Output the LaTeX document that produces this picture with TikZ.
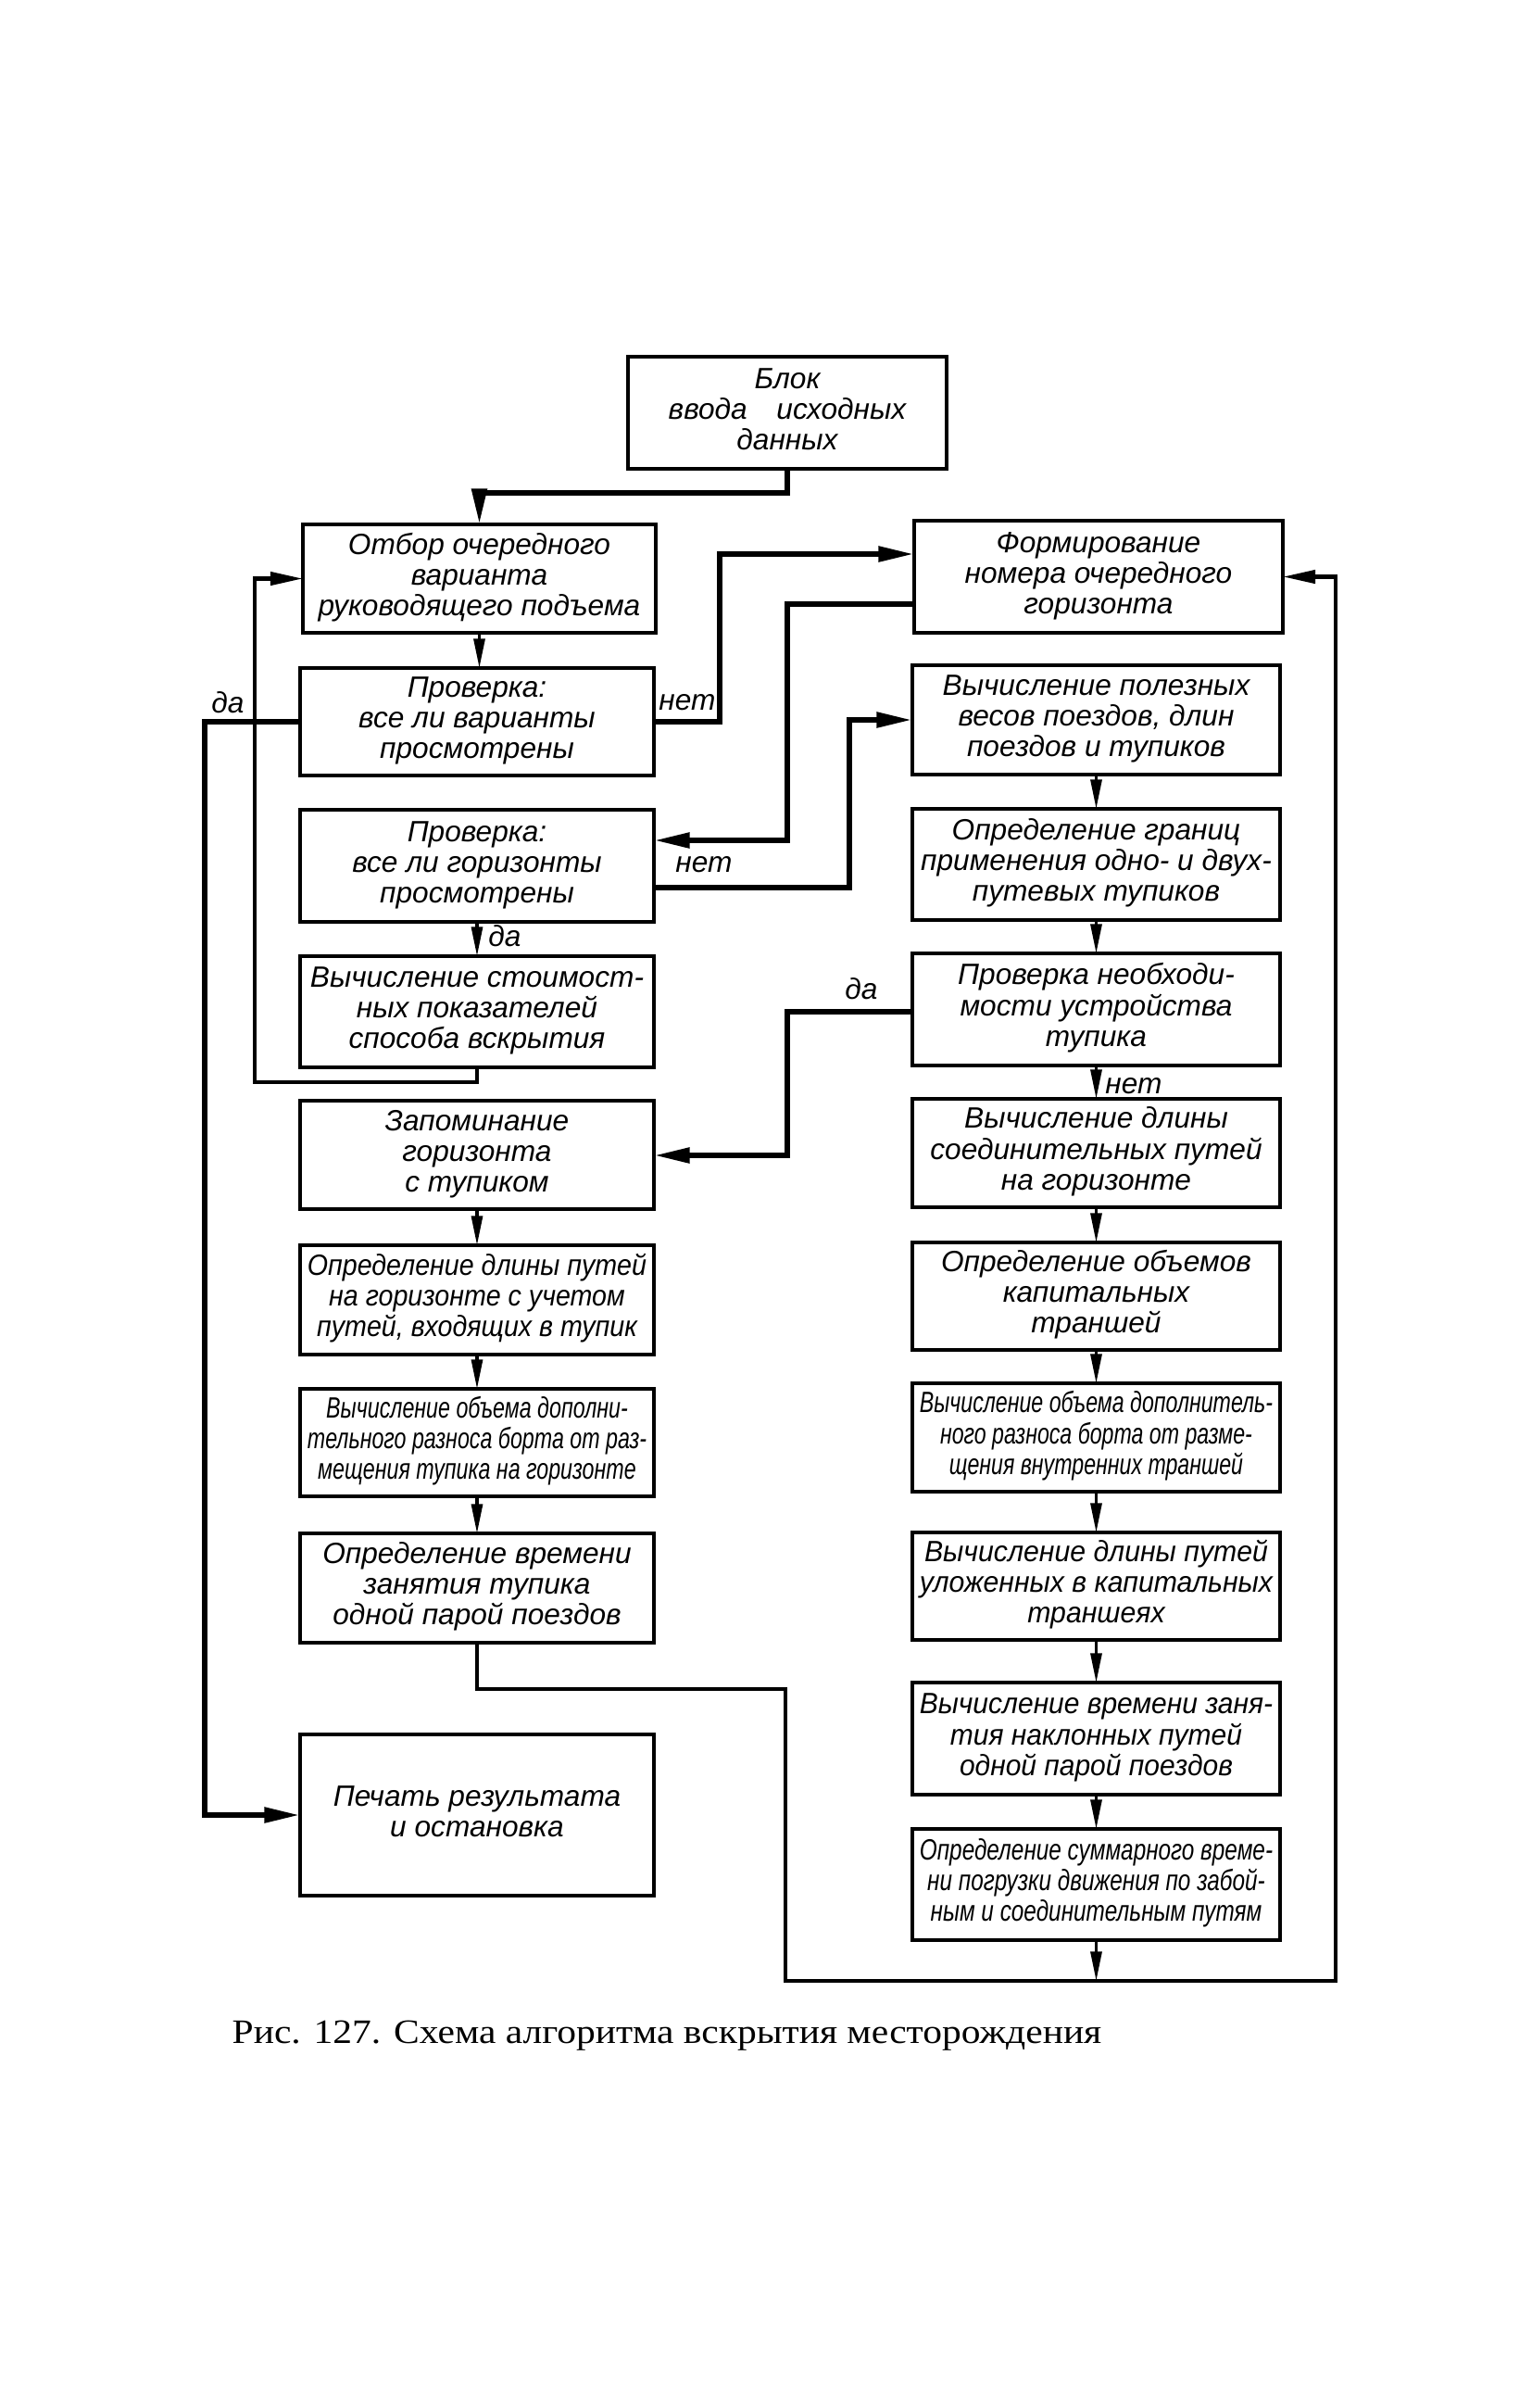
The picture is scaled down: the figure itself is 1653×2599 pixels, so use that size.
\documentclass[tikz,border=0pt]{standalone}
\usepackage{fontspec}
\usepackage{graphicx}
\setmainfont{Liberation Sans}
\newfontfamily\capfont{Liberation Serif}
\usetikzlibrary{arrows.meta}
\newsavebox\fitbox
\newdimen\fitw
\newcommand\boxfont{\fontsize{9}{9.4}\selectfont\itshape}
\newcommand\fittxt[2]{\fitw=\dimexpr 0.284528pt*(#1)\relax\sbox\fitbox{\begin{tabular}{@{}c@{}}#2\end{tabular}}\ifdim\wd\fitbox>\fitw\resizebox{\fitw}{\height}{\usebox\fitbox}\else\usebox\fitbox\fi}
\newcommand\bx[6]{\node[box, minimum width={(#4-#2)*0.01cm}, minimum height={(#5-#3)*0.01cm}] (#1) at ({(#2+#4)/2},{(#3+#5)/2}) {\fittxt{#4-#2-16}{#6}};}
\begin{document}
\begin{tikzpicture}[x=0.01cm,y=-0.01cm,
  box/.style={draw,line width=1pt,inner sep=0pt,outer sep=0pt,font=\boxfont},
  varr/.style={line width=0.9pt,-{Triangle[length=9pt,width=3.4pt]}},
  marr/.style={line width=1.2pt,-{Triangle[length=10pt,width=4pt]}},
  thk/.style={line width=1.7pt,-{Triangle[length=11pt,width=4.5pt]}},
  lbl/.style={font=\boxfont,inner sep=0pt}]
\fill[white] (0,0) rectangle (1653,2599);
\useasboundingbox (0,0) rectangle (1653,2599);
% boxes
\bx{T}{678}{385}{1022}{506}{Блок\\ввода\quad исходных\\данных}
\bx{L1}{327}{566}{708}{683}{Отбор очередного\\варианта\\руководящего подъема}
\bx{L2}{324}{721}{706}{837}{Проверка:\\все ли варианты\\просмотрены}
\bx{L3}{324}{874}{706}{995}{Проверка:\\все ли горизонты\\просмотрены}
\bx{L4}{324}{1032}{706}{1152}{Вычисление стоимост-\\ных показателей\\способа вскрытия}
\bx{L5}{324}{1188}{706}{1305}{Запоминание\\горизонта\\с тупиком}
\bx{L6}{324}{1344}{706}{1462}{Определение длины путей\\на горизонте с учетом\\путей, входящих в тупик}
\bx{L7}{324}{1499}{706}{1615}{Вычисление объема дополни-\\тельного разноса борта от раз-\\мещения тупика на горизонте}
\bx{L8}{324}{1655}{706}{1773}{Определение времени\\занятия тупика\\одной парой поездов}
\bx{L9}{324}{1872}{706}{2046}{Печать результата\\и остановка}
\bx{R1}{987}{562}{1385}{683}{Формирование\\номера очередного\\горизонта}
\bx{R2}{985}{718}{1382}{836}{Вычисление полезных\\весов поездов, длин\\поездов и тупиков}
\bx{R3}{985}{873}{1382}{993}{Определение границ\\применения одно- и двух-\\путевых тупиков}
\bx{R4}{985}{1029}{1382}{1150}{Проверка необходи-\\мости устройства\\тупика}
\bx{R5}{985}{1186}{1382}{1303}{Вычисление длины\\соединительных путей\\на горизонте}
\bx{R6}{985}{1341}{1382}{1457}{Определение объемов\\капитальных\\траншей}
\bx{R7}{985}{1493}{1382}{1610}{Вычисление объема дополнитель-\\ного разноса борта от разме-\\щения внутренних траншей}
\bx{R8}{985}{1654}{1382}{1770}{Вычисление длины путей\\уложенных в капитальных\\траншеях}
\bx{R9}{985}{1816}{1382}{1937}{Вычисление времени заня-\\тия наклонных путей\\одной парой поездов}
\bx{R10}{985}{1974}{1382}{2094}{Определение суммарного време-\\ни погрузки движения по забой-\\ным и соединительным путям}
% connectors
\coordinate (j1) at (517.5,532);
\draw[thk] (T.south) |- (j1) -- (L1.north);
\draw[varr] (L1.south) -- (L1.south |- L2.north);
\coordinate (k3) at (777,598);
\draw[thk] (L2.east) -| (k3) -- (k3 -| R1.west);
\coordinate (k4a) at (850,652);
\coordinate (k4b) at (850,907);
\draw[thk] (k4a -| R1.west) -- (k4a) -- (k4b) -- (k4b -| L3.east);
\coordinate (k5a) at (917,958);
\coordinate (k5b) at (917,777);
\draw[thk] (k5a -| L3.east) -- (k5a) -- (k5b) -- (k5b -| R2.west);
\draw[varr] (L3.south) -- (L3.south |- L4.north);
\coordinate (k7a) at (515,1168);
\coordinate (k7b) at (275,1168);
\draw[marr] (L4.south) -- (k7a) -- (k7b) |- (L1.west);
\coordinate (k8) at (221,1959);
\draw[thk] (L2.west) -| (k8) -- (L9.west);
\coordinate (k9a) at (848,1823);
\coordinate (k9b) at (1442,2138);
\draw[marr] (L8.south) |- (k9a) |- (k9b) |- (R1.east);
\draw[varr] (R10.south) -- (R10.south |- k9b);
\coordinate (k11a) at (850,1092);
\coordinate (k11b) at (850,1247);
\draw[thk] (k11a -| R4.west) -- (k11a) -- (k11b) -- (k11b -| L5.east);
\foreach \a/\b in {L5/L6,L6/L7,L7/L8,R2/R3,R3/R4,R4/R5,R5/R6,R6/R7,R7/R8,R8/R9,R9/R10}
  \draw[varr] (\a.south) -- (\a.south |- \b.north);
% labels
\node[lbl] (n1) at (742,758) {нет};
\node[lbl] (n2) at (760,933) {нет};
\node[lbl] (d1) at (545,1010) {да};
\node[lbl] (d2) at (930,1067) {да};
\node[lbl] (n3) at (1224,1172) {нет};
\node[lbl] (d3) at (246,758) {да};
% caption
\node[anchor=base west,inner sep=0pt] (cap) at (250,2205) {\resizebox{9.38cm}{\height}{\capfont\fontsize{10.5}{12}\selectfont Рис. 127. Схема алгоритма вскрытия месторождения}};
\end{tikzpicture}
\end{document}
